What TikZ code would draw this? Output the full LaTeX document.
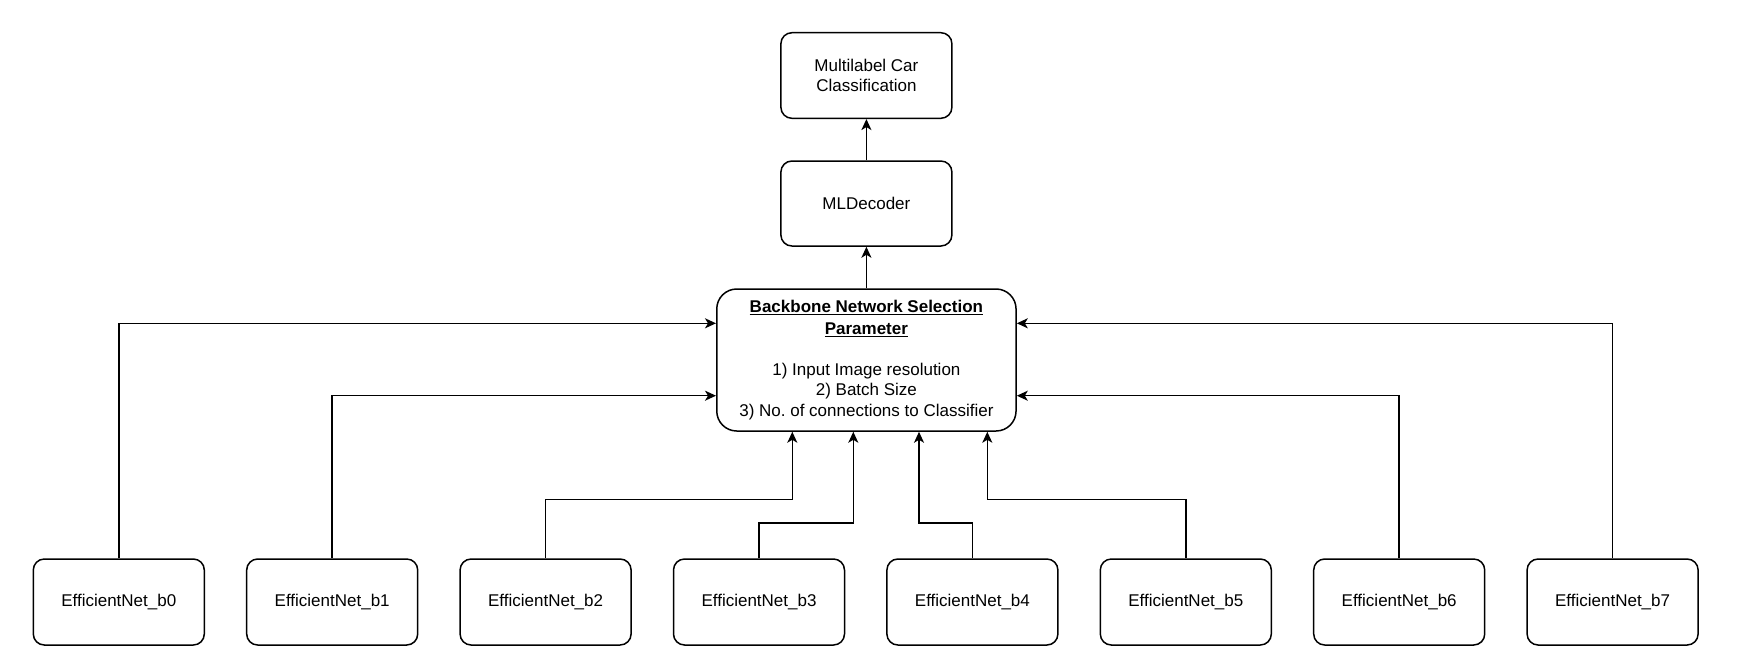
\documentclass[tikz,border=0pt]{standalone}
\usepackage{fontspec}
\setmainfont{Liberation Sans}
\usetikzlibrary{arrows.meta,calc}
\frenchspacing
\begin{document}
\begin{tikzpicture}[x=1pt,y=-1pt,
  box/.style={draw,line width=1.5pt,rounded corners=11pt,align=center,inner sep=0pt,
    minimum width=171pt,minimum height=86pt,font=\fontsize{17}{20.5}\selectfont},
  arr/.style={line width=1.5pt,-{Stealth[length=11pt,width=10pt,inset=3pt]}}]
\useasboundingbox (0,0) rectangle (1744,670);
\node[box,minimum height=85.6pt] (top) at (866.4,75.5) {Multilabel Car\\Classification};
\node[box,minimum height=85pt] (mld) at (866.4,203.5) {MLDecoder};
\node[box,rounded corners=20pt,minimum width=299.3pt,minimum height=142pt] (main) at (866.4,360)
  {\textbf{\underline{Backbone Network Selection}}\\[1.5pt]\textbf{\underline{Parameter}}\\[20pt]1) Input Image resolution\\2) Batch Size\\3) No.\ of connections to Classifier};
\foreach \i in {0,...,7}{
  \node[box] (b\i) at ({118.8+213.4*\i},602) {EfficientNet\_b\i};
}
\draw[arr] (mld.north) -- (top.south);
\draw[arr] (main.north) -- (mld.south);
\draw[arr] (b0.north) |- ([yshift=36.7pt]main.west);
\draw[arr] (b1.north) |- ([yshift=-35.7pt]main.west);
\draw[arr] (b2.north) -- ++(0,-58.6) -| ([xshift=-74.1pt]main.south);
\draw[arr] (b3.north) -- ++(0,-35.4) -| ([xshift=-13.1pt]main.south);
\draw[arr] (b4.north) -- ++(0,-35.4) -| ([xshift=52.6pt]main.south);
\draw[arr] (b5.north) -- ++(0,-58.6) -| ([xshift=120.9pt]main.south);
\draw[arr] (b6.north) |- ([yshift=-35.7pt]main.east);
\draw[arr] (b7.north) |- ([yshift=36.7pt]main.east);
\end{tikzpicture}
\end{document}
